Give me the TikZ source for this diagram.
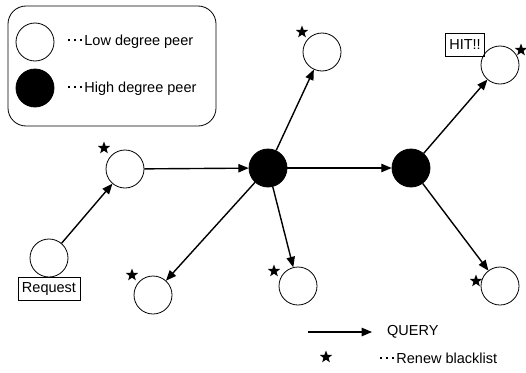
\documentclass[tikz,border=0pt]{standalone}
\usepackage{fontspec}
\setmainfont{Liberation Sans}
\usetikzlibrary{arrows,shapes.geometric}

\newcommand{\tridots}{\rule[0.3em]{2.2pt}{2.2pt}\kern3.8pt\rule[0.3em]{2.2pt}{2.2pt}\kern3.8pt\rule[0.3em]{2.2pt}{2.2pt}\kern2pt}

\begin{document}
\begin{tikzpicture}[x=1pt,y=-1pt,>=triangle 45,font=\fontsize{14.5pt}{17pt}\selectfont,
  low/.style={draw,circle,line width=0.8pt,minimum size=38pt,inner sep=0pt},
  high/.style={low,fill},
  query/.style={->,line width=1.4pt},
  blstar/.style={star,star points=5,star point ratio=2.4,fill,inner sep=0pt,minimum size=13pt},
  tag/.style={draw,line width=0.6pt,inner xsep=4pt,minimum height=23pt}]
\useasboundingbox (0,0) rectangle (526,372);

% legend box
\draw[line width=0.8pt,rounded corners=18pt] (8,6) rectangle (216,126);
\node[low] (lw) at (35,42) {};
\node[high] (lb) at (35,88) {};
\node[anchor=west,inner sep=0pt] (lwt) at (68,42) {\tridots Low degree peer};
\node[anchor=west,inner sep=0pt] (lbt) at (68,89) {\tridots High degree peer};

% peers
\node[low] (req) at (49,258) {};
\node[tag,anchor=north] (reqtag) at (req.south) {Request};
\node[low] (a) at (125,169) {};
\node[high] (h1) at (268,168) {};
\node[high] (h2) at (411,168) {};
\node[low] (b) at (322,52) {};
\node[low] (c) at (298,286) {};
\node[low] (d) at (153,295) {};
\node[low] (e) at (500,65) {};
\node[low] (f) at (500,286) {};
\node[tag] (hit) at (465,44.5) {HIT!!};

% blacklist renewals
\node[blstar] (sa) at (104,148) {};
\node[blstar] (sb) at (302,32) {};
\node[blstar] (sc) at (274,271) {};
\node[blstar] (sd) at (132,275) {};
\node[blstar] (se) at (521,50) {};
\node[blstar] (sf) at (476,281) {};

% query flow
\draw[query] (req) -- (a);
\draw[query] (a) -- (h1);
\draw[query] (h1) -- (h2);
\draw[query] (h1) -- (b);
\draw[query] (h1) -- (c);
\draw[query] (h1) -- (d);
\draw[query] (h2) -- (e);
\draw[query] (h2) -- (f);

% key
\coordinate (qs) at (308,332);
\coordinate (qe) at (372,332);
\draw[query] (qs) -- (qe);
\node[anchor=west,inner sep=0pt] (qt) at (387,332) {QUERY};
\node[blstar] (ks) at (326,357) {};
\node[anchor=west,inner sep=0pt] (kt) at (380,358) {\tridots Renew blacklist};

\end{tikzpicture}
\end{document}
